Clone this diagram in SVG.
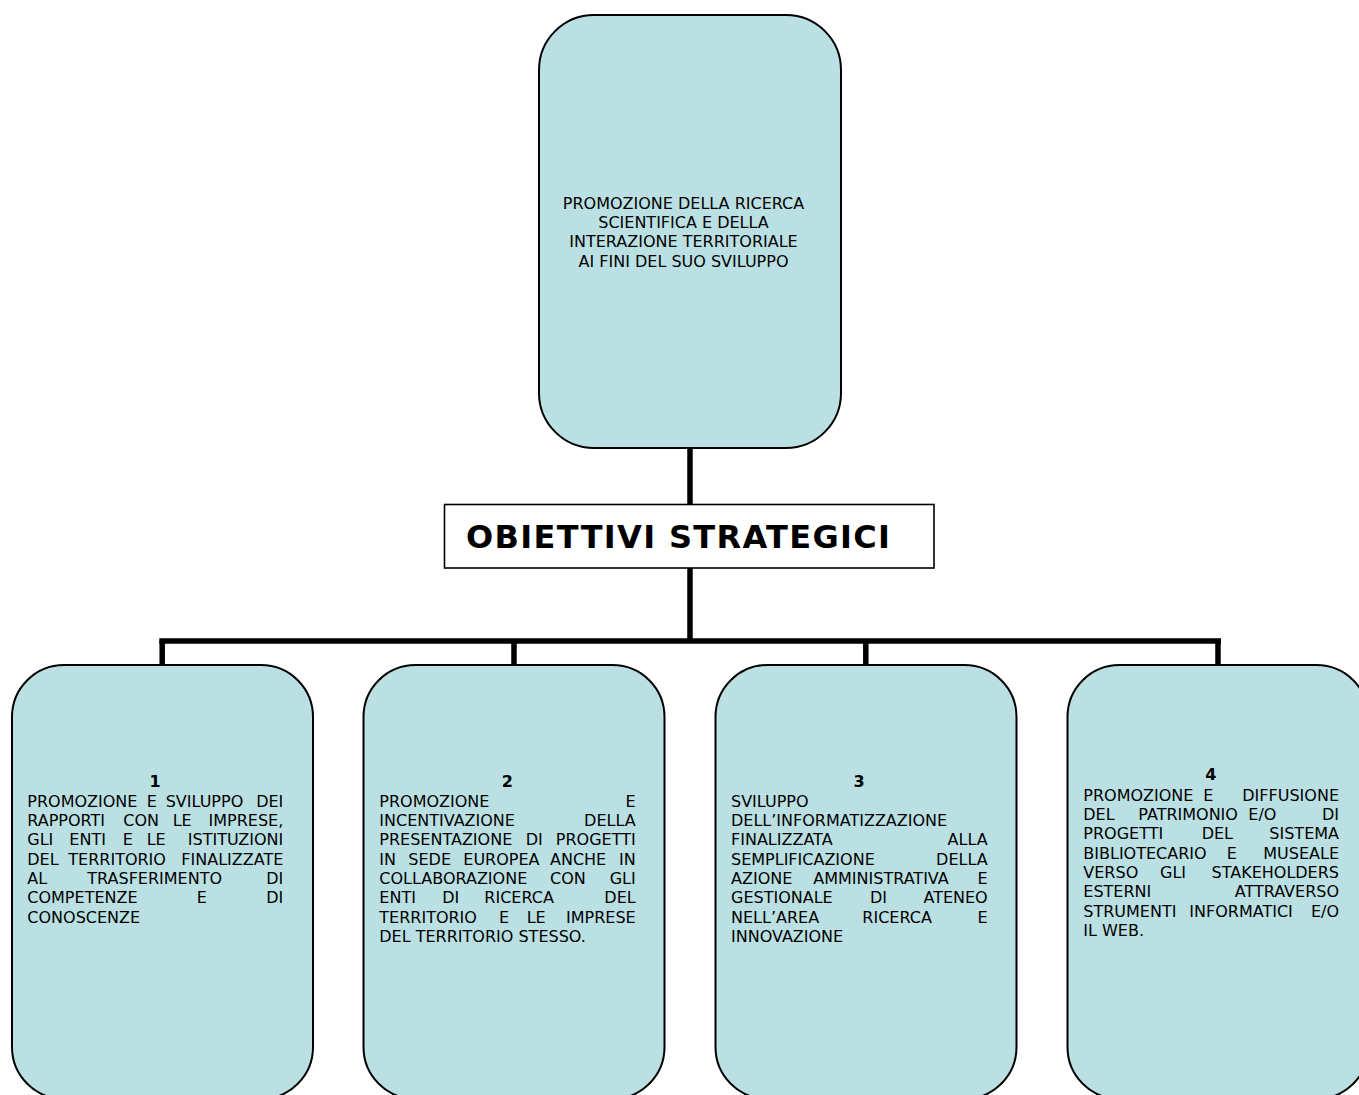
<svg xmlns="http://www.w3.org/2000/svg" width="1359" height="1095" viewBox="0 0 1359 1095">
  <style>
    .box { fill: #BBE0E3; stroke: #000; stroke-width: 2; }
    .title { fill: #fff; stroke: #000; stroke-width: 1.6; }
    .wire { stroke: #000; stroke-width: 5.5; fill: none; stroke-linecap: butt; }
    text { font-family: "DejaVu Sans", Verdana, sans-serif; font-size: 16px; fill: #000; }
    .num { font-weight: bold; text-anchor: middle; }
    .mid { text-anchor: middle; }
    .end { text-anchor: end; }
    .head { font-weight: bold; font-size: 32px; }
  </style>

  <!-- connectors -->
  <g id="connectors">
    <line class="wire" x1="690" y1="448" x2="690" y2="505"/>
    <line class="wire" x1="690" y1="568" x2="690" y2="641"/>
    <line class="wire" x1="159.3" y1="641" x2="1221" y2="641"/>
    <line class="wire" x1="162.2" y1="641" x2="162.2" y2="665"/>
    <line class="wire" x1="514" y1="641" x2="514" y2="665"/>
    <line class="wire" x1="865.8" y1="641" x2="865.8" y2="665"/>
    <line class="wire" x1="1218" y1="641" x2="1218" y2="665"/>
  </g>

  <!-- root goal -->
  <g id="root">
    <rect class="box" x="539" y="15" width="302" height="433" rx="55" ry="55"/>
    <text class="mid" x="683.5" y="209">PROMOZIONE DELLA RICERCA</text>
    <text class="mid" x="683.5" y="228.2">SCIENTIFICA E DELLA</text>
    <text class="mid" x="683.5" y="247.4">INTERAZIONE TERRITORIALE</text>
    <text class="mid" x="683.5" y="266.7">AI FINI DEL SUO SVILUPPO</text>
  </g>

  <!-- heading -->
  <g id="heading">
    <rect class="title" x="444.5" y="504.5" width="489.5" height="63.5"/>
    <text class="head" x="466" y="548" textLength="424" lengthAdjust="spacing">OBIETTIVI STRATEGICI</text>
  </g>

  <!-- objective 1: justified between x=27.3 and x=283.3 -->
  <g id="obj1">
    <rect class="box" x="12" y="665" width="301" height="434" rx="52" ry="52"/>
    <text class="num" x="155" y="786.7">1</text>
    <text y="806.7"><tspan x="27.3">PROMOZIONE</tspan><tspan x="146.7">E</tspan><tspan x="165.7">SVILUPPO</tspan></text>
    <text class="end" x="283.3" y="806.7">DEI</text>
    <text y="826.1"><tspan x="27.3">RAPPORTI</tspan><tspan x="123.3">CON</tspan><tspan x="172.7">LE</tspan></text>
    <text class="end" x="283.3" y="826.1">IMPRESE,</text>
    <text y="845.4"><tspan x="27.3">GLI</tspan><tspan x="69.3">ENTI</tspan><tspan x="122.7">E</tspan><tspan x="146.7">LE</tspan></text>
    <text class="end" x="283.3" y="845.4">ISTITUZIONI</text>
    <text y="864.7"><tspan x="27.3">DEL</tspan><tspan x="68.3">TERRITORIO</tspan></text>
    <text class="end" x="283.3" y="864.7">FINALIZZATE</text>
    <text y="884.1"><tspan x="27.3">AL</tspan><tspan x="87.3">TRASFERIMENTO</tspan></text>
    <text class="end" x="283.3" y="884.1">DI</text>
    <text y="903.4"><tspan x="27.3">COMPETENZE</tspan><tspan x="196.7">E</tspan></text>
    <text class="end" x="283.3" y="903.4">DI</text>
    <text x="27.3" y="922.7">CONOSCENZE</text>
  </g>

  <!-- objective 2: justified between x=379.3 and x=635.7 -->
  <g id="obj2">
    <rect class="box" x="363.5" y="665" width="301" height="434" rx="52" ry="52"/>
    <text class="num" x="507.3" y="786.7">2</text>
    <text x="379.3" y="806.7">PROMOZIONE</text>
    <text class="end" x="635.7" y="806.7">E</text>
    <text x="379.3" y="826.1">INCENTIVAZIONE</text>
    <text class="end" x="635.7" y="826.1">DELLA</text>
    <text y="845.4"><tspan x="379.3">PRESENTAZIONE</tspan><tspan x="525.7">DI</tspan></text>
    <text class="end" x="635.7" y="845.4">PROGETTI</text>
    <text y="864.7"><tspan x="379.3">IN</tspan><tspan x="408.3">SEDE</tspan><tspan x="463.3">EUROPEA</tspan><tspan x="550">ANCHE</tspan></text>
    <text class="end" x="635.7" y="864.7">IN</text>
    <text y="884.1"><tspan x="379.3">COLLABORAZIONE</tspan><tspan x="550">CON</tspan></text>
    <text class="end" x="635.7" y="884.1">GLI</text>
    <text y="903.4"><tspan x="379.3">ENTI</tspan><tspan x="442.3">DI</tspan><tspan x="484.3">RICERCA</tspan></text>
    <text class="end" x="635.7" y="903.4">DEL</text>
    <text y="922.7"><tspan x="379.3">TERRITORIO</tspan><tspan x="499">E</tspan><tspan x="526.7">LE</tspan></text>
    <text class="end" x="635.7" y="922.7">IMPRESE</text>
    <text x="379.3" y="942">DEL TERRITORIO STESSO.</text>
  </g>

  <!-- objective 3: justified between x=731 and x=987.7 -->
  <g id="obj3">
    <rect class="box" x="715.5" y="665" width="301" height="434" rx="52" ry="52"/>
    <text class="num" x="859" y="786.7">3</text>
    <text x="731" y="806.7">SVILUPPO</text>
    <text x="731" y="826.1">DELL’INFORMATIZZAZIONE</text>
    <text x="731" y="845.4">FINALIZZATA</text>
    <text class="end" x="987.7" y="845.4">ALLA</text>
    <text x="731" y="864.7">SEMPLIFICAZIONE</text>
    <text class="end" x="987.7" y="864.7">DELLA</text>
    <text y="884.1"><tspan x="731">AZIONE</tspan><tspan x="813.3">AMMINISTRATIVA</tspan></text>
    <text class="end" x="987.7" y="884.1">E</text>
    <text y="903.4"><tspan x="731">GESTIONALE</tspan><tspan x="870">DI</tspan></text>
    <text class="end" x="987.7" y="903.4">ATENEO</text>
    <text y="922.7"><tspan x="731">NELL’AREA</tspan><tspan x="862.3">RICERCA</tspan></text>
    <text class="end" x="987.7" y="922.7">E</text>
    <text x="731" y="942">INNOVAZIONE</text>
  </g>

  <!-- objective 4: justified between x=1083.3 and x=1339 -->
  <g id="obj4">
    <rect class="box" x="1067.5" y="665" width="301" height="434" rx="52" ry="52"/>
    <text class="num" x="1210.7" y="780">4</text>
    <text y="800.7"><tspan x="1083.3">PROMOZIONE</tspan><tspan x="1203.3">E</tspan></text>
    <text class="end" x="1339" y="800.7">DIFFUSIONE</text>
    <text y="820.1"><tspan x="1083.3">DEL</tspan><tspan x="1138.3">PATRIMONIO</tspan><tspan x="1248.3">E/O</tspan></text>
    <text class="end" x="1339" y="820.1">DI</text>
    <text y="839.4"><tspan x="1083.3">PROGETTI</tspan><tspan x="1201.7">DEL</tspan></text>
    <text class="end" x="1339" y="839.4">SISTEMA</text>
    <text y="858.7"><tspan x="1083.3">BIBLIOTECARIO</tspan><tspan x="1226.7">E</tspan></text>
    <text class="end" x="1339" y="858.7">MUSEALE</text>
    <text y="878.1"><tspan x="1083.3">VERSO</tspan><tspan x="1160">GLI</tspan></text>
    <text class="end" x="1339" y="878.1">STAKEHOLDERS</text>
    <text x="1083.3" y="897.4">ESTERNI</text>
    <text class="end" x="1339" y="897.4">ATTRAVERSO</text>
    <text y="916.7"><tspan x="1083.3">STRUMENTI</tspan><tspan x="1189.3">INFORMATICI</tspan></text>
    <text class="end" x="1339" y="916.7">E/O</text>
    <text x="1083.3" y="936">IL WEB.</text>
  </g>
</svg>
